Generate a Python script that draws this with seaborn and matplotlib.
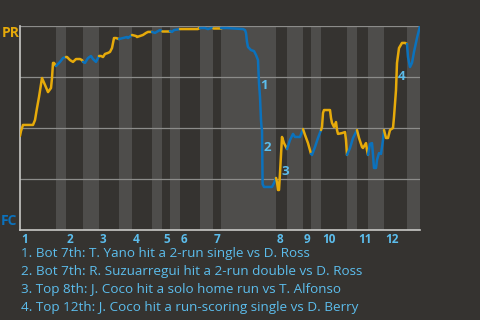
import matplotlib
matplotlib.use("Agg")
import matplotlib.pyplot as plt
import seaborn as sns
import pandas as pd

# ---- data ----
# game progress (0-400) and PR win probability (%)
progress = [0, 1, 3, 13, 15, 17, 19, 22, 25, 28, 31, 32, 33, 34, 36,
            40, 43, 46,
            47, 50, 53, 56, 60, 62, 63,
            65, 68, 71, 73, 76, 79,
            81, 83, 85, 88, 90, 92, 94, 96, 99,
            103, 107, 108, 112,
            116, 117, 123, 126, 128, 132,
            135, 138, 140, 142,
            150,
            152, 154, 160,
            178, 179, 180,
            185, 188, 191, 193,
            201,
            207, 223, 225, 226, 227, 228, 231, 234, 236, 238, 238.5, 239, 240, 241,
            241.5, 242, 242.3, 242.6, 244, 252, 254, 256,
            257, 258, 259, 260, 261, 262, 264, 267,
            270, 273, 275, 280, 283,
            285, 288, 291,
            292, 295, 298, 301,
            302, 303, 304, 310, 311, 312, 314, 316, 317, 318, 322, 325, 326, 327,
            330, 333, 336, 337,
            339, 342, 343, 346, 347, 348,
            350, 352, 353, 354, 356, 357, 359, 361, 363, 364,
            366, 368, 370, 373, 374, 376, 377, 379, 382, 385, 387,
            388, 390, 392, 394, 397, 400]
pr_win_pct = [46.1, 48.5, 51.5, 51.5, 53.9, 59.8, 65.2, 74.5, 71.1, 67.6, 69.6, 74.5, 81.9, 81.9, 80.4,
              82.4, 84.3, 84.8,
              84.8, 83.3, 82.4, 83.8, 83.8, 83.3, 82.4,
              81.9, 84.3, 85.3, 83.8, 82.4, 85.3,
              85.3, 84.8, 86.3, 86.8, 87.3, 89.2, 94.1, 94.1, 93.6,
              94.1, 94.6, 94.1, 95.6,
              95.1, 94.6, 95.6, 96.6, 97.1, 97.1,
              96.6, 97.5, 98.0, 97.5,
              97.5,
              97.1, 98.0, 98.5,
              98.5, 99.0, 99.0,
              99.0, 98.5, 99.0, 99.0,
              99.0,
              99.0, 98.5, 98.0, 96.6, 92.2, 89.7, 88.2, 87.7, 85.8, 83.3, 77.5, 72.1, 65.2, 53.9,
              50.5, 49.0, 35.8, 22.5, 21.1, 21.1, 23.0, 25.5,
              23.5, 19.6, 19.6, 27.9, 36.8, 45.6, 42.6, 39.7,
              44.1, 47.1, 45.6, 45.6, 49.5,
              46.6, 42.6, 37.3,
              36.8, 40.7, 45.1, 49.0,
              50.5, 57.4, 58.8, 58.8, 54.9, 52.5, 50.5, 52.9, 49.0, 47.1, 47.5, 48.0, 44.1, 36.8,
              40.2, 45.1, 48.0, 49.0,
              45.1, 40.7, 40.2, 42.6, 39.2, 36.8,
              42.2, 42.6, 36.8, 30.4, 30.4, 34.3, 37.7, 37.3, 44.1, 49.0,
              45.1, 45.1, 49.0, 50.0, 55.4, 68.6, 81.9, 89.2, 91.7, 91.7, 91.2,
              84.8, 79.9, 81.9, 87.3, 94.1, 100.0]

# half-inning boundaries (top 1, bot 1, top 2, ...)
half_starts = [0, 36, 46, 63, 79, 99, 112, 132, 142, 150, 160, 180, 193, 201,
               256, 267, 283, 291, 301, 327, 337, 348, 364, 387, 400]
inning_labels = ["1", "2", "3", "4", "5", "6", "7", "8", "9", "10", "11", "12"]

event_labels = ["1", "2", "3", "4"]
event_x = [244, 247, 265, 382]
event_y = [70.6, 40.2, 28.9, 75.0]

notes = ["1. Bot 7th: T. Yano hit a 2-run single vs D. Ross",
         "2. Bot 7th: R. Suzuarregui hit a 2-run double vs D. Ross",
         "3. Top 8th: J. Coco hit a solo home run vs T. Alfonso",
         "4. Top 12th: J. Coco hit a run-scoring single vs D. Berry"]

# ---- style ----
BG = "#353330"
BAND = "#4e4d4b"
YEL = "#e6aa0a"
BLU = "#0b72bd"
LBLU = "#5cbdec"

sns.set_style("dark", {"axes.facecolor": BG, "figure.facecolor": BG})
plt.rcParams["font.family"] = ["Open Sans", "DejaVu Sans"]

fig = plt.figure(figsize=(4.8, 3.2), dpi=100)
ax = fig.add_axes([20 / 480, 90 / 320, 400 / 480, 204 / 320])
ax.set_facecolor(BG)

# shading bands for bottom halves
for i in range(len(half_starts) - 1):
    if i % 2 == 1:
        ax.axvspan(half_starts[i], half_starts[i + 1], color=BAND, lw=0, zorder=0)

# gridlines
for g in [25, 50, 75, 100]:
    ax.axhline(g, color="#8c8c8a", lw=0.9, zorder=1)

df = pd.DataFrame({"x": progress, "wp": pr_win_pct})
for i in range(len(half_starts) - 1):
    a, b = half_starts[i], half_starts[i + 1]
    seg = df[(df.x >= a) & (df.x <= b)]
    sns.lineplot(data=seg, x="x", y="wp", ax=ax, color=YEL if i % 2 == 0 else BLU,
                 lw=1.8, sort=False, estimator=None, zorder=3)

ax.set_xlim(0, 400)
ax.set_ylim(0, 100)
ax.set_xticks([])
ax.set_yticks([])
ax.set_xlabel("")
ax.set_ylabel("")
for s in ["top", "right"]:
    ax.spines[s].set_visible(False)
for s in ["left", "bottom"]:
    ax.spines[s].set_visible(True)
    ax.spines[s].set_color("#c8c8c6")
    ax.spines[s].set_linewidth(1.2)

for lab, x, y in zip(event_labels, event_x, event_y):
    ax.text(x, y, lab, color=LBLU, fontsize=9.5, fontweight="bold", ha="center", va="center", zorder=5)

for k, lab in enumerate(inning_labels):
    ax.text(half_starts[2 * k] + 1, -0.045, lab, transform=ax.get_xaxis_transform(),
            color=LBLU, fontsize=8.5, fontweight="bold", ha="left", va="center")

fig.text(2 / 480, 1 - 33 / 320, "PR", color=YEL, fontsize=10, fontweight="bold", ha="left", va="center")
fig.text(1 / 480, 1 - 221 / 320, "FC", color=BLU, fontsize=10, fontweight="bold", ha="left", va="center")

for k, t in enumerate(notes):
    fig.text(21 / 480, 1 - (254 + 17.7 * k) / 320, t, color=LBLU, fontsize=9.7, ha="left", va="center")

fig.savefig("out.png", dpi=100, facecolor=BG)
